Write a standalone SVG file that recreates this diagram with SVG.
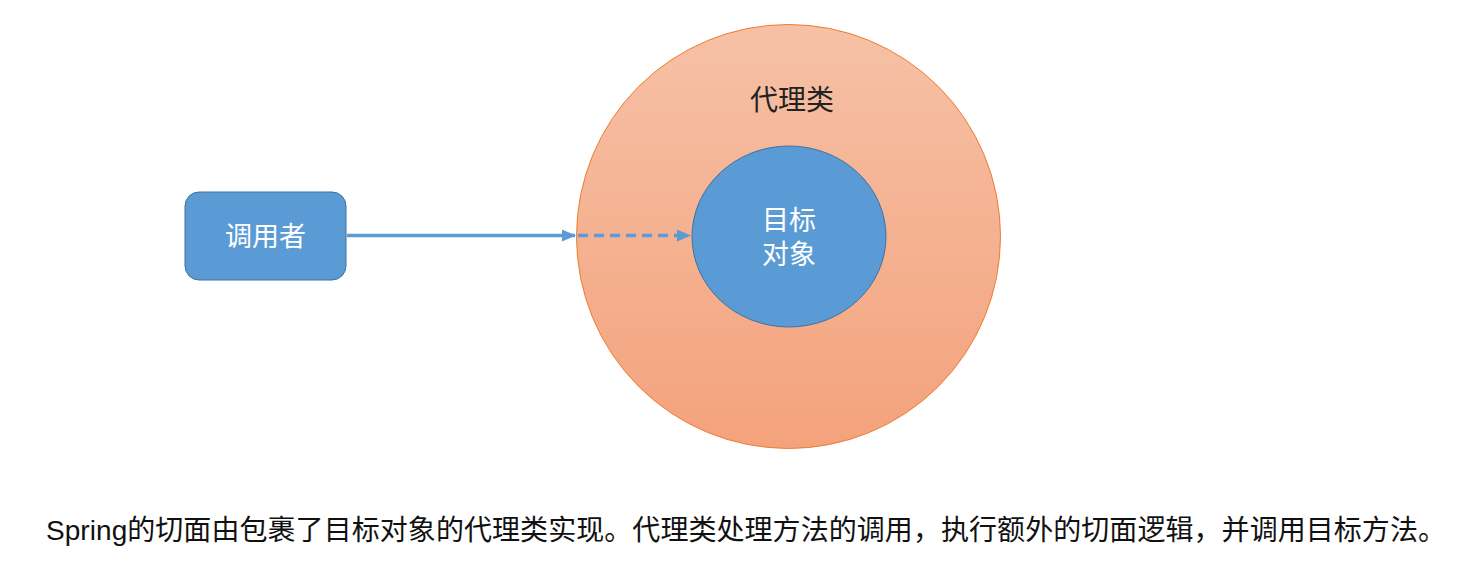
<svg xmlns="http://www.w3.org/2000/svg" width="1466" height="578" viewBox="0 0 1466 578">
<style>
.cjk{font-family:"Liberation Sans","Noto Sans CJK SC",sans-serif;}
.w{fill:#ffffff;font-size:27px;}
.d{fill:#222222;font-size:28px;}
.conn{stroke:#5B9BD5;stroke-width:3.5;fill:none;}
</style>
<defs>
<linearGradient id="og" x1="0" y1="0" x2="0" y2="1">
<stop offset="0" stop-color="#F6C1A6"/>
<stop offset="1" stop-color="#F4A27C"/>
</linearGradient>
<marker id="ah2" markerWidth="14" markerHeight="12" refX="13" refY="6" orient="auto" markerUnits="userSpaceOnUse" viewBox="0 0 14 12">
<path d="M0,0 L14,6 L0,12 Z" fill="#5B9BD5"/>
</marker>
</defs>
<rect width="1466" height="578" fill="#ffffff"/>
<g id="proxy">
<circle cx="788.5" cy="236.5" r="212" fill="url(#og)" stroke="#ED7D31" stroke-width="1"/>
<text class="cjk d" x="792" y="110" text-anchor="middle">代理类</text>
</g>
<g id="target">
<ellipse cx="789" cy="236.5" rx="97" ry="90.5" fill="#5B9BD5" stroke="#41719C" stroke-width="1"/>
<text class="cjk w" x="789" y="230" text-anchor="middle">目标</text>
<text class="cjk w" x="789" y="264" text-anchor="middle">对象</text>
</g>
<g id="caller">
<rect x="185" y="192" width="161" height="88" rx="14" ry="14" fill="#5B9BD5" stroke="#41719C" stroke-width="1"/>
<text class="cjk w" x="265.5" y="246" text-anchor="middle">调用者</text>
</g>
<g id="connectors">
<line class="conn" x1="347" y1="235.5" x2="575" y2="235.5" marker-end="url(#ah2)"/>
<line class="conn" x1="578" y1="235.5" x2="690" y2="235.5" stroke-dasharray="10,6" marker-end="url(#ah2)"/>
</g>
<g id="caption">
<text class="cjk" x="46" y="540" font-size="28" fill="#111111" textLength="1400" lengthAdjust="spacing">Spring的切面由包裹了目标对象的代理类实现。代理类处理方法的调用，执行额外的切面逻辑，并调用目标方法。</text>
</g>
</svg>
